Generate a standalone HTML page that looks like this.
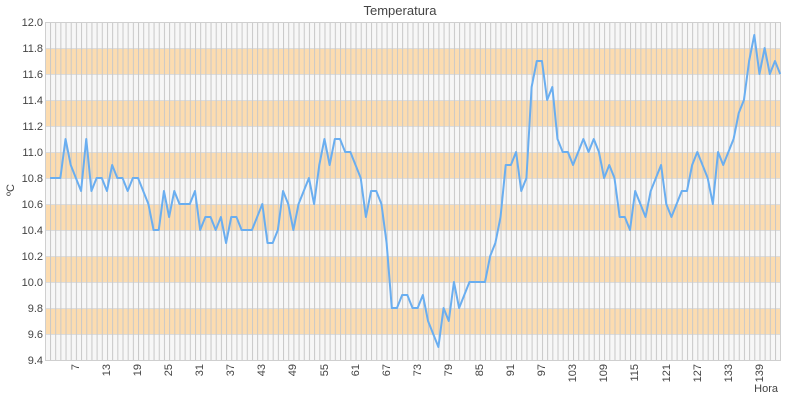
<!DOCTYPE html>
<html><head><meta charset="utf-8"><style>
html,body{margin:0;padding:0;background:#fff;}
svg{display:block;font-family:"Liberation Sans",sans-serif;}
</style></head><body>
<svg width="800" height="400" xmlns="http://www.w3.org/2000/svg">
<defs>
<pattern id="vg" patternUnits="userSpaceOnUse" x="50" y="0" width="5.1786" height="400">
<rect x="0" y="0" width="1" height="400" fill="#c8c8c8"/>
</pattern>
</defs>
<rect x="45" y="22" width="735" height="338" fill="#f7f7f7"/>
<g fill="#fcdcb0">
<rect x="45" y="48" width="735" height="26"/>
<rect x="45" y="100" width="735" height="26"/>
<rect x="45" y="152" width="735" height="26"/>
<rect x="45" y="204" width="735" height="26"/>
<rect x="45" y="256" width="735" height="26"/>
<rect x="45" y="308" width="735" height="26"/>
</g>
<g stroke="#dcdcdc" stroke-width="1">
<line x1="45" x2="780" y1="48.5" y2="48.5"/><line x1="45" x2="780" y1="74.5" y2="74.5"/>
<line x1="45" x2="780" y1="100.5" y2="100.5"/><line x1="45" x2="780" y1="126.5" y2="126.5"/>
<line x1="45" x2="780" y1="152.5" y2="152.5"/><line x1="45" x2="780" y1="178.5" y2="178.5"/>
<line x1="45" x2="780" y1="204.5" y2="204.5"/><line x1="45" x2="780" y1="230.5" y2="230.5"/>
<line x1="45" x2="780" y1="256.5" y2="256.5"/><line x1="45" x2="780" y1="282.5" y2="282.5"/>
<line x1="45" x2="780" y1="308.5" y2="308.5"/><line x1="45" x2="780" y1="334.5" y2="334.5"/>
</g>
<rect x="49.5" y="22" width="730" height="338" fill="url(#vg)"/>
<rect x="45.5" y="22.5" width="735" height="338" fill="none" stroke="#cfcfcf"/>
<polyline fill="none" stroke="#6aaef0" stroke-width="2" stroke-linejoin="round" vector-effect="non-scaling-stroke"
transform="translate(50,22) scale(5.1786,-130) translate(-1,-12)"
points="1,10.8 2,10.8 3,10.8 4,11.1 5,10.9 6,10.8 7,10.7 8,11.1 9,10.7 10,10.8 11,10.8 12,10.7 13,10.9 14,10.8 15,10.8 16,10.7 17,10.8 18,10.8 19,10.7 20,10.6 21,10.4 22,10.4 23,10.7 24,10.5 25,10.7 26,10.6 27,10.6 28,10.6 29,10.7 30,10.4 31,10.5 32,10.5 33,10.4 34,10.5 35,10.3 36,10.5 37,10.5 38,10.4 39,10.4 40,10.4 41,10.5 42,10.6 43,10.3 44,10.3 45,10.4 46,10.7 47,10.6 48,10.4 49,10.6 50,10.7 51,10.8 52,10.6 53,10.9 54,11.1 55,10.9 56,11.1 57,11.1 58,11.0 59,11.0 60,10.9 61,10.8 62,10.5 63,10.7 64,10.7 65,10.6 66,10.3 67,9.8 68,9.8 69,9.9 70,9.9 71,9.8 72,9.8 73,9.9 74,9.7 75,9.6 76,9.5 77,9.8 78,9.7 79,10.0 80,9.8 81,9.9 82,10.0 83,10.0 84,10.0 85,10.0 86,10.2 87,10.3 88,10.5 89,10.9 90,10.9 91,11.0 92,10.7 93,10.8 94,11.5 95,11.7 96,11.7 97,11.4 98,11.5 99,11.1 100,11.0 101,11.0 102,10.9 103,11.0 104,11.1 105,11.0 106,11.1 107,11.0 108,10.8 109,10.9 110,10.8 111,10.5 112,10.5 113,10.4 114,10.7 115,10.6 116,10.5 117,10.7 118,10.8 119,10.9 120,10.6 121,10.5 122,10.6 123,10.7 124,10.7 125,10.9 126,11.0 127,10.9 128,10.8 129,10.6 130,11.0 131,10.9 132,11.0 133,11.1 134,11.3 135,11.4 136,11.7 137,11.9 138,11.6 139,11.8 140,11.6 141,11.7 142,11.6"/>
<text x="400" y="15" text-anchor="middle" font-size="13" fill="#444">Temperatura</text>
<g font-size="11" fill="#444" text-anchor="end">
<text x="43" y="26">12.0</text><text x="43" y="52">11.8</text><text x="43" y="78">11.6</text>
<text x="43" y="104">11.4</text><text x="43" y="130">11.2</text><text x="43" y="156">11.0</text>
<text x="43" y="182">10.8</text><text x="43" y="208">10.6</text><text x="43" y="234">10.4</text>
<text x="43" y="260">10.2</text><text x="43" y="286">10.0</text><text x="43" y="312">9.8</text>
<text x="43" y="338">9.6</text><text x="43" y="364">9.4</text>
</g>
<text transform="translate(14,190) rotate(-90)" text-anchor="middle" font-size="11" fill="#444">ºC</text>
<g font-size="11" fill="#444" text-anchor="end">
<text transform="translate(75,364) rotate(-90)" dy="4">7</text>
<text transform="translate(106,364) rotate(-90)" dy="4">13</text>
<text transform="translate(137,364) rotate(-90)" dy="4">19</text>
<text transform="translate(168,364) rotate(-90)" dy="4">25</text>
<text transform="translate(199,364) rotate(-90)" dy="4">31</text>
<text transform="translate(230,364) rotate(-90)" dy="4">37</text>
<text transform="translate(261,364) rotate(-90)" dy="4">43</text>
<text transform="translate(292,364) rotate(-90)" dy="4">49</text>
<text transform="translate(324,364) rotate(-90)" dy="4">55</text>
<text transform="translate(355,364) rotate(-90)" dy="4">61</text>
<text transform="translate(386,364) rotate(-90)" dy="4">67</text>
<text transform="translate(417,364) rotate(-90)" dy="4">73</text>
<text transform="translate(448,364) rotate(-90)" dy="4">79</text>
<text transform="translate(479,364) rotate(-90)" dy="4">85</text>
<text transform="translate(510,364) rotate(-90)" dy="4">91</text>
<text transform="translate(541,364) rotate(-90)" dy="4">97</text>
<text transform="translate(572,364) rotate(-90)" dy="4">103</text>
<text transform="translate(603,364) rotate(-90)" dy="4">109</text>
<text transform="translate(634,364) rotate(-90)" dy="4">115</text>
<text transform="translate(666,364) rotate(-90)" dy="4">121</text>
<text transform="translate(697,364) rotate(-90)" dy="4">127</text>
<text transform="translate(728,364) rotate(-90)" dy="4">133</text>
<text transform="translate(759,364) rotate(-90)" dy="4">139</text>
</g>
<text x="778" y="392" text-anchor="end" font-size="11" fill="#444">Hora</text>
</svg>
</body></html>
